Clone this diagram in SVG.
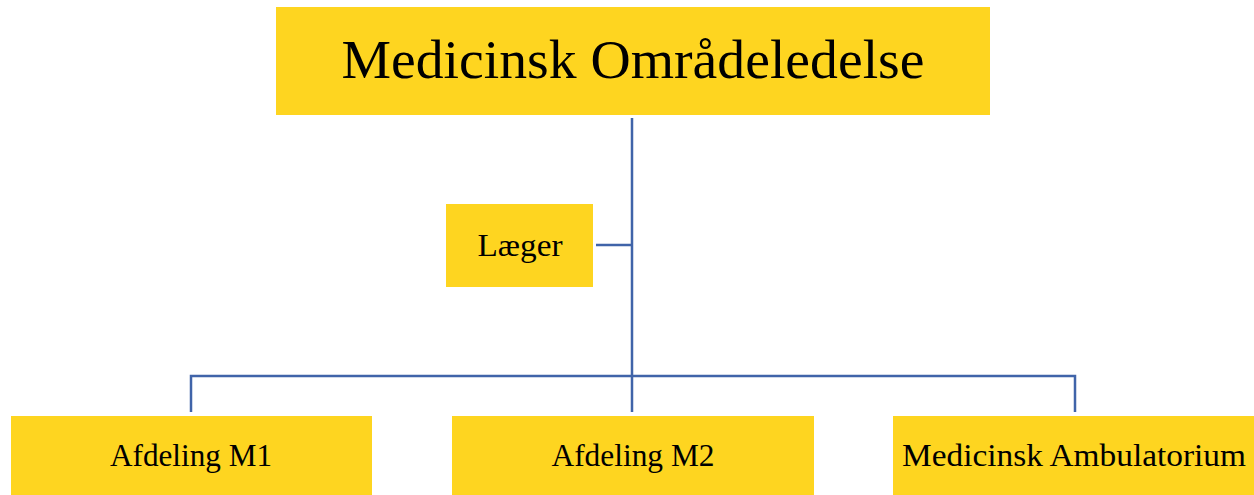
<svg xmlns="http://www.w3.org/2000/svg" width="1254" height="495" viewBox="0 0 1254 495">
<style>
.box{fill:#FED520}
.t{font-family:"Liberation Serif","DejaVu Serif",serif;fill:#000;text-anchor:middle}
.s{font-size:32px}
.c{stroke:#4064A9;stroke-width:2.5;fill:none}
</style>
<rect width="1254" height="495" fill="#fff"/>
<g id="connectors">
<path class="c" d="M632 118V412"/>
<path class="c" d="M596 245H632"/>
<path class="c" d="M191 412V376H1075V412"/>
</g>
<g id="top"><rect class="box" x="276" y="7" width="714" height="108"/><text class="t" x="633" y="78" font-size="54" textLength="583" lengthAdjust="spacingAndGlyphs">Medicinsk Områdeledelse</text></g>
<g id="laeger"><rect class="box" x="446" y="204" width="147" height="83"/><text class="t s" x="520" y="256" textLength="85" lengthAdjust="spacingAndGlyphs">Læger</text></g>
<g id="m1"><rect class="box" x="11" y="416" width="361" height="79"/><text class="t s" x="191" y="466" textLength="162" lengthAdjust="spacingAndGlyphs">Afdeling M1</text></g>
<g id="m2"><rect class="box" x="452" y="416" width="362" height="79"/><text class="t s" x="633" y="466" textLength="163" lengthAdjust="spacingAndGlyphs">Afdeling M2</text></g>
<g id="amb"><rect class="box" x="893" y="416" width="361" height="79"/><text class="t s" x="1074" y="466" textLength="344" lengthAdjust="spacingAndGlyphs">Medicinsk Ambulatorium</text></g>
</svg>
